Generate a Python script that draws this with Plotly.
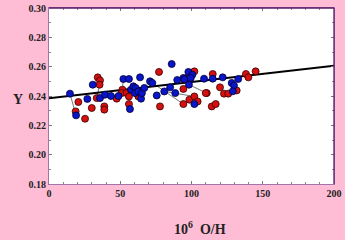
import plotly.graph_objects as go

# ---- data ----
blue_x = [14.7, 19.0, 26.9, 30.7, 35.8, 39.3, 43.5, 48.8, 52.2, 56.1, 57.5, 56.8, 59.2, 60.8,
          60.4, 62.7, 63.9, 64.6, 65.2, 66.9, 70.9, 72.5, 75.6, 80.9, 85.0, 86.1, 88.6, 90.0,
          94.3, 95.0, 97.8, 98.2, 100.6, 99.5, 102.0, 108.8, 114.9, 121.9, 128.2, 129.8, 129.0, 132.8]
blue_y = [0.2416, 0.2268, 0.2380, 0.2477, 0.2386, 0.2409, 0.2400, 0.2400, 0.2516, 0.2516, 0.2443, 0.2311, 0.2466, 0.2455,
          0.2420, 0.2431, 0.2527, 0.2382, 0.2420, 0.2455, 0.2500, 0.2489, 0.2404, 0.2431, 0.2459, 0.2618, 0.2420, 0.2509,
          0.2523, 0.2514, 0.2564, 0.2477, 0.2545, 0.2523, 0.2345, 0.2518, 0.2518, 0.2527, 0.2489, 0.2472, 0.2432, 0.2516]

red_x = [18.7, 20.6, 25.3, 30.0, 33.5, 34.2, 35.8, 35.5, 38.8, 38.8, 47.5, 51.5, 51.0, 54.5,
         56.1, 56.1, 62.7, 62.7, 77.2, 77.9, 94.3, 94.3, 97.0, 98.5, 102.0, 102.0, 104.3, 110.7,
         110.0, 114.2, 114.9, 117.0, 120.0, 122.8, 125.8, 131.7, 138.2, 139.9, 145.0]
red_y = [0.2295, 0.2359, 0.2245, 0.2318, 0.2386, 0.2527, 0.2506, 0.2477, 0.2329, 0.2307, 0.2382, 0.2443, 0.2420, 0.2420,
         0.2397, 0.2345, 0.2420, 0.2397, 0.2564, 0.2329, 0.2448, 0.2345, 0.2523, 0.2375, 0.2568, 0.2397, 0.2363, 0.2420,
         0.2420, 0.2329, 0.2550, 0.2345, 0.2459, 0.2416, 0.2416, 0.2438, 0.2550, 0.2527, 0.2568]

# pairs of connected measurements (x0, y0, x1, y1)
pair_x0 = [14.7, 30.7, 33.5, 52.2, 72.5, 80.9, 98.2]
pair_y0 = [0.2416, 0.2477, 0.2386, 0.2516, 0.2489, 0.2431, 0.2477]
pair_x1 = [19.0, 34.2, 35.5, 51.5, 94.3, 102.0, 110.7]
pair_y1 = [0.2268, 0.2527, 0.2477, 0.2443, 0.2345, 0.2397, 0.2420]

fit_intercept = 0.2384
fit_slope = 0.000111
fit_x = [0, 200]

x_ticks = [0, 50, 100, 150, 200]
y_ticks = [0.18, 0.20, 0.22, 0.24, 0.26, 0.28, 0.30]

# ---- build ----
fit_y = [fit_intercept + fit_slope * v for v in fit_x]

seg_x, seg_y = [], []
for a, b, c, d in zip(pair_x0, pair_y0, pair_x1, pair_y1):
    seg_x += [a, c, None]
    seg_y += [b, d, None]

PINK = "#FFBDD5"
FONT = "Liberation Serif"

fig = go.Figure()
fig.add_trace(go.Scatter(x=seg_x, y=seg_y, mode="lines",
                         line=dict(color="#555555", width=0.8), hoverinfo="skip"))
fig.add_trace(go.Scatter(x=fit_x, y=fit_y, mode="lines",
                         line=dict(color="black", width=2)))
fig.add_trace(go.Scatter(x=red_x, y=red_y, mode="markers",
                         marker=dict(color="#D41010", size=7,
                                     line=dict(color="#3a0000", width=0.8))))
fig.add_trace(go.Scatter(x=blue_x, y=blue_y, mode="markers",
                         marker=dict(color="#0A14C8", size=7,
                                     line=dict(color="#000033", width=0.8))))

axis_common = dict(
    showgrid=False, zeroline=False, automargin=False,
    showline=True, linecolor="#A274AC", linewidth=1.2,
    mirror="allticks", ticks="inside", ticklen=3, tickcolor="#777777", tickwidth=1,
    tickfont=dict(family=FONT, size=10, color="#222222", weight="bold"),
)

fig.update_xaxes(range=[0, 200], tickvals=x_ticks, ticktext=[str(v) for v in x_ticks],
                 minor=dict(dtick=10, ticks="inside", ticklen=2, tickcolor="#888888"),
                 **axis_common)
fig.update_yaxes(range=[0.18, 0.30], tickvals=y_ticks, ticktext=[f"{v:.2f}" for v in y_ticks],
                 minor=dict(dtick=0.01, ticks="inside", ticklen=2, tickcolor="#888888"),
                 **axis_common)

fig.update_layout(
    width=345, height=240,
    margin=dict(l=49, r=11, t=8, b=56, autoexpand=False),
    paper_bgcolor=PINK, plot_bgcolor="white",
    showlegend=False,
    shapes=[
        dict(type="line", xref="paper", yref="paper", x0=0, x1=1, y0=1, y1=1,
             line=dict(color="#5A1A6A", width=1.3)),
        dict(type="line", xref="paper", yref="paper", x0=1, x1=1, y0=0, y1=1,
             line=dict(color="#5A1A6A", width=1.3)),
    ],
    annotations=[
        dict(text="Y", xref="paper", yref="paper", x=-0.135, y=0.48, showarrow=False,
             font=dict(family=FONT, size=14, color="#222222", weight="bold")),
        dict(text="10<sup>6</sup>  O/H", xref="paper", yref="paper", x=0.53, y=-0.25,
             showarrow=False, yanchor="middle",
             font=dict(family=FONT, size=14, color="#222222", weight="bold")),
    ],
)

fig.write_html("out.html", config={"displayModeBar": False})

# remove the browser's default page margin so the figure sits at the top-left corner
with open("out.html", "r", encoding="utf-8") as f:
    html = f.read()
html = html.replace("<head>", "<head><style>html,body{margin:0;padding:0;overflow:hidden;}</style>", 1)
with open("out.html", "w", encoding="utf-8") as f:
    f.write(html)
